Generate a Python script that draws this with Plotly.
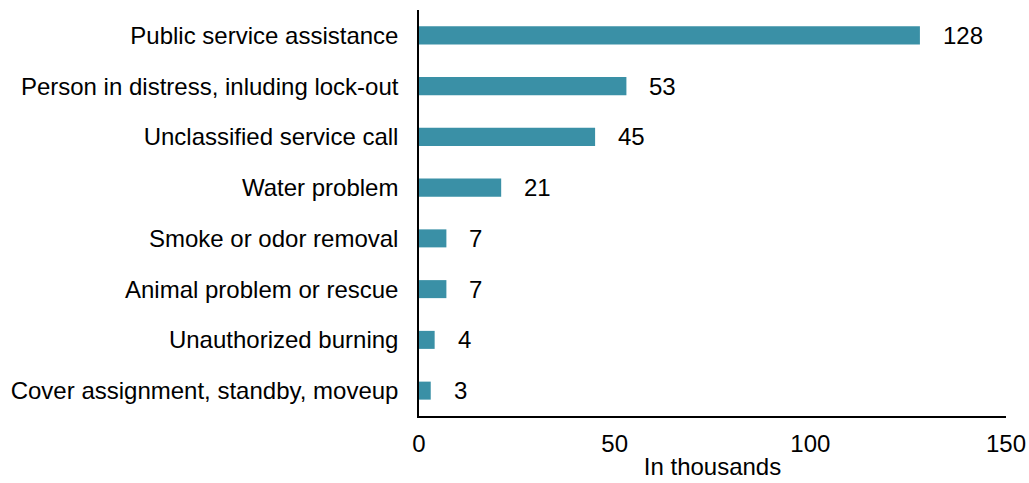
import plotly.graph_objects as go

categories = [
    "Public service assistance",
    "Person in distress, inluding lock-out",
    "Unclassified service call",
    "Water problem",
    "Smoke or odor removal",
    "Animal problem or rescue",
    "Unauthorized burning",
    "Cover assignment, standby, moveup",
]
values = [128, 53, 45, 21, 7, 7, 4, 3]
x_ticks = [0, 50, 100, 150]

BAR_COLOR = "#3A90A6"
FONT = "Arial, Liberation Sans, sans-serif"
FS = 24

fig = go.Figure(
    go.Bar(
        x=values,
        y=categories,
        orientation="h",
        marker=dict(color=BAR_COLOR, line=dict(width=0)),
        hoverinfo="skip",
    )
)

# value labels to the right of each bar
for cat, val in zip(categories, values):
    fig.add_annotation(
        x=val, y=cat, text=str(val), showarrow=False,
        xanchor="left", yanchor="middle", xshift=21,
        font=dict(family=FONT, size=FS, color="#000000"),
    )

fig.update_layout(
    width=1029, height=483,
    margin=dict(l=419, r=23, t=10, b=67, autoexpand=False),
    paper_bgcolor="white", plot_bgcolor="white",
    bargap=0.645,
    showlegend=False,
    font=dict(family=FONT, size=FS, color="#000000"),
)

fig.update_xaxes(
    range=[0, 150], tickvals=x_ticks, ticktext=[str(t) for t in x_ticks],
    showgrid=False, zeroline=False, ticks="",
    showline=True, linecolor="#000000", linewidth=1.5,
    tickfont=dict(size=FS), ticklabelstandoff=5,
    ticklabeloverflow="allow", automargin=False,
    title=dict(text="In thousands", font=dict(size=FS), standoff=3),
)
fig.update_yaxes(
    categoryorder="array", categoryarray=categories[::-1],
    showgrid=False, zeroline=False, ticks="",
    showline=True, linecolor="#000000", linewidth=1.5,
    tickfont=dict(size=FS), automargin=False,
    ticklabelstandoff=14,
)

fig.write_html("out.html")
